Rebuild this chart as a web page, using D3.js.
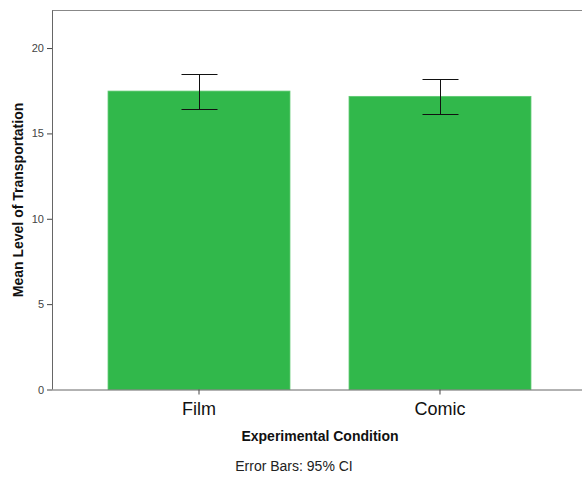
<!DOCTYPE html>
<html>
<head>
<meta charset="utf-8">
<script src="https://cdn.jsdelivr.net/npm/d3@7"></script>
<style>
  html, body { margin: 0; padding: 0; background: #fff; }
  svg { display: block; font-family: Arial, "Liberation Sans", sans-serif; }
</style>
</head>
<body>
<svg id="chart" width="582" height="477"></svg>
<script>
const categories = ["Film", "Comic"];
const means = [17.48, 17.17];
const ciLower = [16.45, 16.13];
const ciUpper = [18.47, 18.16];
const yTicks = [0, 5, 10, 15, 20];

const svg = d3.select("#chart");
const mLeft = 52, mRight = 587, mTop = 10.5, mBottom = 389.5;

const x = d3.scaleBand().domain(categories).range([mLeft, mRight])
  .paddingInner(0.245).paddingOuter(0.2325);
const y = d3.scaleLinear().domain([0, 22.2]).range([mBottom, mTop]);

// bars
svg.append("g").selectAll("rect").data(categories).join("rect")
  .attr("x", d => x(d))
  .attr("width", x.bandwidth())
  .attr("y", (d, i) => y(means[i]))
  .attr("height", (d, i) => mBottom - y(means[i]))
  .attr("fill", "#31b84b")
  .attr("stroke", "#5dc970")
  .attr("stroke-width", 0.8);

// frame top line
svg.append("line").attr("x1", mLeft).attr("x2", 582).attr("y1", mTop).attr("y2", mTop)
  .attr("stroke", "#888").attr("stroke-width", 1);

// y axis
const yAxis = svg.append("g").attr("transform", `translate(${mLeft},0)`)
  .call(d3.axisLeft(y).tickValues(yTicks).tickSize(5).tickPadding(3).tickSizeOuter(0));
yAxis.select(".domain").attr("stroke", "#666").attr("d", `M0.5,${mTop}V${mBottom}`);
yAxis.selectAll(".tick line").attr("stroke", "#444");
yAxis.selectAll(".tick text").attr("font-size", 11).attr("fill", "#444")
  .attr("font-family", "Arial, 'Liberation Sans', sans-serif");

// x axis
const xAxis = svg.append("g").attr("transform", `translate(0,${mBottom})`)
  .call(d3.axisBottom(x).tickSize(5).tickPadding(8).tickSizeOuter(0));
xAxis.select(".domain").attr("stroke", "#666").attr("d", `M${mLeft},0.5H582`);
xAxis.selectAll(".tick line").attr("stroke", "#444");
xAxis.selectAll(".tick text").attr("font-size", 18).attr("fill", "#111")
  .attr("font-family", "Arial, 'Liberation Sans', sans-serif");

// error bars
const eb = svg.append("g").attr("stroke", "#111").attr("stroke-width", 1);
categories.forEach((c, i) => {
  const cx = Math.round(x(c) + x.bandwidth() / 2) + 0.5;
  const yl = Math.round(y(ciLower[i])) + 0.5, yu = Math.round(y(ciUpper[i])) + 0.5;
  eb.append("line").attr("x1", cx).attr("x2", cx).attr("y1", yu).attr("y2", yl);
  eb.append("line").attr("x1", cx - 18).attr("x2", cx + 18).attr("y1", yu).attr("y2", yu);
  eb.append("line").attr("x1", cx - 18).attr("x2", cx + 18).attr("y1", yl).attr("y2", yl);
});

// axis titles
svg.append("text").attr("x", 320).attr("y", 441).attr("text-anchor", "middle")
  .attr("font-size", 14).attr("font-weight", "bold").attr("fill", "#111")
  .text("Experimental Condition");
svg.append("text").attr("transform", `translate(22.5,200) rotate(-90)`)
  .attr("text-anchor", "middle").attr("font-size", 14).attr("font-weight", "bold").attr("fill", "#111")
  .text("Mean Level of Transportation");
svg.append("text").attr("x", 294).attr("y", 471).attr("text-anchor", "middle")
  .attr("font-size", 14).attr("fill", "#222")
  .text("Error Bars: 95% CI");
</script>
</body>
</html>
